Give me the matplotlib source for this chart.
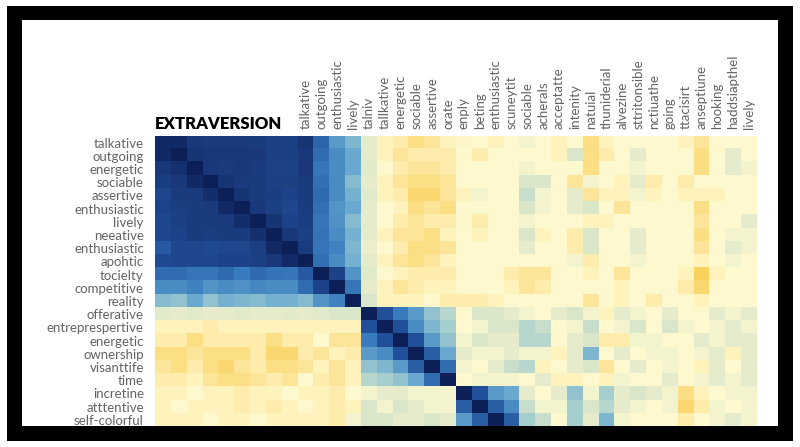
import numpy as np
import matplotlib
matplotlib.use("Agg")
from matplotlib import pyplot as plt
from matplotlib.colors import LinearSegmentedColormap
from matplotlib.patches import Rectangle

plt.rcParams['font.family'] = ['Lato', 'DejaVu Sans']

row_labels = ["talkative", "outgoing", "energetic", "sociable", "assertive",
              "enthusiastic", "lively", "neeative", "enthusiastic", "apohtic",
              "tocielty", "competitive", "reality", "offerative",
              "entreprespertive", "energetic", "ownership", "visanttife", "time",
              "incretine", "atttentive", "self-colorful"]

# first nine columns carry no label (title sits above them)
col_labels = ["", "", "", "", "", "", "", "", "",
              "talkative", "outgoing", "enthusiastic", "lively", "talniv",
              "tallkative", "energetic", "sociable", "assertive", "orate",
              "enply", "beting", "enthusiastic", "scuneytit", "sociable",
              "acherals", "acceptatte", "intenity", "natuial", "thuniderial",
              "alvezine", "sttritonsible", "nctiuathe", "going", "ttacisirt",
              "anseptiune", "hooking", "haddsiapthel", "lively"]

r_talkative = [0.95, 0.95, 0.88, 0.87, 0.87, 0.87, 0.86, 0.84, 0.84, 0.90, 0.68, 0.50, 0.40,
               0.10, -0.05, -0.10, -0.20, -0.15, -0.05, -0.02, 0.00, -0.05, 0.00, 0.05, 0.00, -0.05,
               0.00, -0.20, -0.05, 0.00, 0.00, 0.00, 0.00, -0.05, -0.15, 0.00, 0.00, 0.00]
r_outgoing = [0.95, 1.00, 0.90, 0.88, 0.88, 0.88, 0.88, 0.84, 0.84, 0.88, 0.65, 0.55, 0.45,
              0.10, -0.05, -0.15, -0.10, -0.10, -0.10, 0.00, -0.10, 0.00, 0.00, 0.00, 0.00, -0.05,
              0.15, -0.20, -0.10, 0.00, 0.10, 0.00, 0.00, 0.00, -0.20, 0.00, 0.10, 0.00]
r_energetic = [0.88, 0.92, 1.00, 0.88, 0.87, 0.88, 0.87, 0.83, 0.83, 0.88, 0.62, 0.55, 0.45,
               0.12, 0.00, -0.10, -0.15, -0.15, -0.10, 0.00, 0.00, 0.00, 0.00, 0.05, 0.00, 0.00,
               0.00, -0.20, 0.00, 0.00, 0.05, 0.00, 0.00, 0.00, -0.20, 0.00, 0.10, 0.05]
r_sociable = [0.85, 0.88, 0.95, 1.00, 0.90, 0.87, 0.86, 0.84, 0.84, 0.87, 0.64, 0.55, 0.38,
              0.10, -0.05, -0.15, -0.20, -0.20, -0.15, 0.00, 0.00, 0.00, 0.00, 0.15, 0.15, 0.00,
              -0.15, 0.05, 0.00, -0.05, 0.10, -0.10, 0.00, -0.10, 0.00, 0.00, 0.00, 0.00]
r_assertive = [0.80, 0.86, 0.87, 0.93, 1.00, 0.90, 0.86, 0.85, 0.82, 0.86, 0.66, 0.55, 0.42,
               0.12, -0.05, -0.10, -0.25, -0.25, -0.15, -0.05, 0.05, 0.00, 0.00, 0.20, 0.05, 0.00,
               0.10, -0.15, -0.05, -0.05, 0.05, -0.05, 0.00, -0.05, -0.05, -0.05, 0.00, 0.00]
r_enthusiastic = [0.82, 0.85, 0.86, 0.87, 0.95, 1.00, 0.88, 0.84, 0.80, 0.86, 0.64, 0.52, 0.45,
                  0.10, 0.00, -0.05, -0.20, -0.15, -0.20, 0.00, 0.00, 0.00, 0.00, 0.15, 0.05, 0.00,
                  0.10, 0.15, 0.00, -0.15, 0.00, 0.00, 0.00, 0.00, -0.20, 0.00, 0.00, 0.00]
r_lively = [0.80, 0.84, 0.86, 0.86, 0.87, 0.93, 1.00, 0.90, 0.82, 0.85, 0.62, 0.53, 0.38,
            0.10, 0.00, -0.10, -0.15, -0.10, -0.10, 0.00, -0.10, 0.00, 0.00, 0.05, 0.00, 0.00,
            0.00, -0.05, -0.05, 0.00, 0.00, 0.00, 0.00, 0.00, -0.15, 0.00, 0.00, 0.10]
r_neeative = [0.80, 0.82, 0.86, 0.85, 0.86, 0.86, 0.92, 1.00, 0.88, 0.84, 0.63, 0.55, 0.42,
              0.10, -0.05, -0.15, -0.15, -0.20, -0.05, 0.00, -0.05, 0.00, 0.00, 0.15, -0.05, 0.00,
              -0.10, 0.15, 0.00, 0.00, 0.10, 0.00, 0.00, 0.00, -0.20, 0.00, 0.05, 0.05]
r_enthusiastic2 = [0.72, 0.80, 0.80, 0.78, 0.80, 0.80, 0.85, 0.95, 1.00, 0.86, 0.62, 0.58, 0.40,
                   0.08, 0.00, -0.10, -0.20, -0.20, -0.15, 0.00, 0.00, 0.00, 0.00, 0.10, 0.00, 0.00,
                   -0.10, 0.15, 0.00, 0.00, 0.10, 0.00, 0.00, 0.00, -0.15, 0.00, 0.10, 0.05]
r_apohtic = [0.78, 0.80, 0.80, 0.80, 0.82, 0.82, 0.84, 0.88, 0.94, 1.00, 0.64, 0.55, 0.42,
             0.10, -0.05, -0.15, -0.20, -0.15, -0.05, 0.00, 0.00, 0.00, 0.00, 0.00, 0.00, 0.00,
             0.05, -0.10, 0.00, 0.00, 0.05, 0.00, 0.00, 0.00, -0.05, 0.00, 0.05, 0.00]
r_tocielty = [0.65, 0.65, 0.62, 0.62, 0.66, 0.60, 0.66, 0.63, 0.62, 0.72, 1.00, 0.82, 0.52,
              0.12, 0.00, -0.05, -0.10, -0.10, -0.10, 0.00, 0.00, 0.00, -0.10, -0.15, -0.15, 0.00,
              0.00, -0.05, 0.00, -0.15, 0.00, 0.00, 0.00, -0.05, -0.30, -0.05, 0.00, 0.00]
r_competitive = [0.55, 0.55, 0.58, 0.52, 0.55, 0.53, 0.56, 0.55, 0.55, 0.65, 0.82, 1.00, 0.62,
                 0.10, -0.05, -0.15, -0.10, -0.05, -0.05, 0.00, 0.00, 0.00, -0.05, -0.15, -0.10, 0.00,
                 0.00, 0.00, 0.00, -0.05, 0.00, 0.00, 0.00, -0.10, -0.25, 0.00, 0.00, 0.00]
r_reality = [0.38, 0.35, 0.45, 0.35, 0.42, 0.40, 0.38, 0.42, 0.42, 0.38, 0.52, 0.58, 1.00,
             0.15, -0.05, -0.05, -0.05, 0.00, -0.10, -0.10, -0.10, -0.05, 0.00, 0.00, 0.00, 0.00,
             0.00, -0.15, 0.00, -0.05, 0.00, -0.10, 0.00, 0.00, -0.05, 0.00, 0.00, 0.00]
r_offerative = [0.12, 0.10, 0.12, 0.10, 0.10, 0.12, 0.10, 0.10, 0.12, 0.10, 0.12, 0.15, 0.15,
                1.00, 0.75, 0.60, 0.50, 0.35, 0.25,
                0.00, 0.15, 0.15, 0.10, 0.05, 0.00, 0.10, 0.15, 0.05, -0.05, 0.10, 0.05, 0.00,
                0.10, 0.00, 0.00, 0.10, 0.05, 0.10]
r_entrepre = [-0.05, -0.05, -0.05, -0.10, -0.05, -0.05, -0.05, -0.05, -0.05, -0.05, -0.05, -0.05, -0.05,
              0.75, 1.00, 0.75, 0.55, 0.40, 0.30,
              0.00, 0.05, 0.15, 0.15, 0.25, 0.20, 0.00, 0.05, 0.20, 0.00, 0.05, 0.15, 0.00,
              0.15, 0.05, 0.00, 0.05, 0.10, 0.05]
r_energetic2 = [-0.10, -0.10, -0.20, -0.10, -0.10, -0.10, -0.10, -0.20, -0.10, -0.10, 0.00, -0.15, -0.15,
                0.60, 0.75, 1.00, 0.75, 0.50, 0.35,
                0.05, 0.15, 0.10, 0.10, 0.25, 0.25, 0.00, 0.10, 0.15, -0.10, -0.10, 0.05, 0.05,
                0.00, 0.00, 0.10, 0.05, 0.10, 0.10]
r_ownership = [-0.20, -0.20, -0.15, -0.20, -0.20, -0.20, -0.10, -0.25, -0.25, -0.10, -0.15, -0.05, -0.10,
               0.50, 0.55, 0.75, 1.00, 0.70, 0.45,
               0.10, 0.05, 0.05, 0.10, 0.05, 0.05, -0.05, 0.10, 0.40, 0.00, 0.10, 0.00, 0.05,
               0.05, 0.00, 0.05, 0.10, -0.05, 0.10]
r_visanttife = [-0.15, -0.20, -0.10, -0.20, -0.25, -0.15, -0.10, -0.20, -0.20, -0.15, -0.05, -0.15, -0.05,
                0.35, 0.40, 0.50, 0.70, 1.00, 0.65,
                0.05, 0.00, 0.10, 0.20, 0.25, -0.05, 0.00, 0.10, 0.15, -0.15, 0.00, 0.10, 0.00,
                0.05, 0.00, -0.05, 0.10, 0.00, 0.10]
r_time = [-0.10, -0.10, -0.05, -0.15, -0.20, -0.20, -0.15, -0.10, -0.15, 0.00, -0.10, -0.15, -0.05,
          0.25, 0.30, 0.35, 0.45, 0.65, 1.00,
          0.00, 0.05, 0.05, 0.05, 0.00, 0.10, -0.05, -0.05, 0.00, -0.05, 0.05, 0.00, 0.00,
          0.10, 0.00, 0.05, 0.10, 0.05, 0.10]
r_incretine = [-0.05, -0.05, 0.00, -0.05, -0.05, -0.10, -0.05, -0.05, 0.00, -0.05, -0.05, -0.10, 0.00,
               0.05, 0.10, 0.10, 0.05, 0.05, 0.05,
               1.00, 0.75, 0.50, 0.45, 0.10, 0.00, 0.10, 0.35, 0.05, 0.30, 0.10, 0.15, 0.10,
               0.05, -0.20, -0.05, 0.00, 0.05, 0.05]
r_atttentive = [-0.05, 0.00, -0.05, -0.05, -0.05, -0.10, -0.05, -0.10, -0.05, 0.00, -0.05, -0.10, -0.05,
                0.15, 0.05, 0.15, 0.10, 0.05, 0.05,
                0.70, 1.00, 0.70, 0.55, 0.20, 0.05, 0.05, 0.30, 0.15, 0.25, 0.10, 0.05, 0.00,
                0.05, -0.25, -0.10, 0.05, 0.00, 0.05]
r_selfcolorful = [-0.05, -0.05, -0.05, 0.00, -0.05, -0.05, 0.00, -0.05, -0.05, -0.05, -0.05, -0.10, 0.05,
                  0.15, 0.15, 0.10, 0.10, 0.15, 0.10,
                  0.50, 0.70, 1.00, 0.70, 0.30, 0.20, 0.00, 0.30, 0.10, 0.40, 0.05, 0.00, 0.00,
                  0.00, -0.10, 0.00, 0.05, 0.10, 0.05]

corr = np.array([r_talkative, r_outgoing, r_energetic, r_sociable, r_assertive,
                 r_enthusiastic, r_lively, r_neeative, r_enthusiastic2, r_apohtic,
                 r_tocielty, r_competitive, r_reality, r_offerative, r_entrepre,
                 r_energetic2, r_ownership, r_visanttife, r_time, r_incretine,
                 r_atttentive, r_selfcolorful])

vmin, vmax = -0.3, 1.0
stops = [(-0.30, "#fbd15e"), (-0.15, "#fde69a"), (0.00, "#fff9cf"),
         (0.15, "#d9e6ca"), (0.30, "#a6cfd0"), (0.45, "#6aa9cf"),
         (0.60, "#3a7dbe"), (0.75, "#22509a"), (0.90, "#173677"),
         (1.00, "#0c1f57")]
cmap = LinearSegmentedColormap.from_list(
    "ylbu", [((v - vmin) / (vmax - vmin), c) for v, c in stops])

W, H = 800, 447
fig = plt.figure(figsize=(W / 100, H / 100), dpi=100, facecolor="white")

ax = fig.add_axes([155 / W, 1 - 426.5 / H, 602 / W, 290.5 / H])
ax.imshow(corr, cmap=cmap, vmin=vmin, vmax=vmax, aspect="auto",
          interpolation="nearest")

ax.set_yticks(range(len(row_labels)))
ax.set_yticklabels(row_labels, fontsize=9.5, color="#636363")
ax.set_xticks(range(len(col_labels)))
ax.set_xticklabels(col_labels, fontsize=9.5, color="#636363", rotation=90)
ax.xaxis.tick_top()
ax.tick_params(axis="both", length=0)
ax.tick_params(axis="y", pad=8)
ax.tick_params(axis="x", pad=5)
for s in ax.spines.values():
    s.set_visible(False)

fig.text(155 / W, 1 - 129 / H, "EXTRAVERSION", fontsize=12, fontweight="heavy",
         color="black", ha="left", va="baseline")


# black frame around the white panel
def px_rect(x0, y0, x1, y1):
    return Rectangle((x0 / W, 1 - y1 / H), (x1 - x0) / W, (y1 - y0) / H,
                     transform=fig.transFigure, facecolor="black",
                     edgecolor="none", zorder=10)


for r in [px_rect(7, 6, 793, 20), px_rect(7, 426, 793, 441),
          px_rect(7, 6, 22, 441), px_rect(778, 6, 793, 441)]:
    fig.patches.append(r)

fig.savefig("out.png", dpi=100, facecolor="white")
